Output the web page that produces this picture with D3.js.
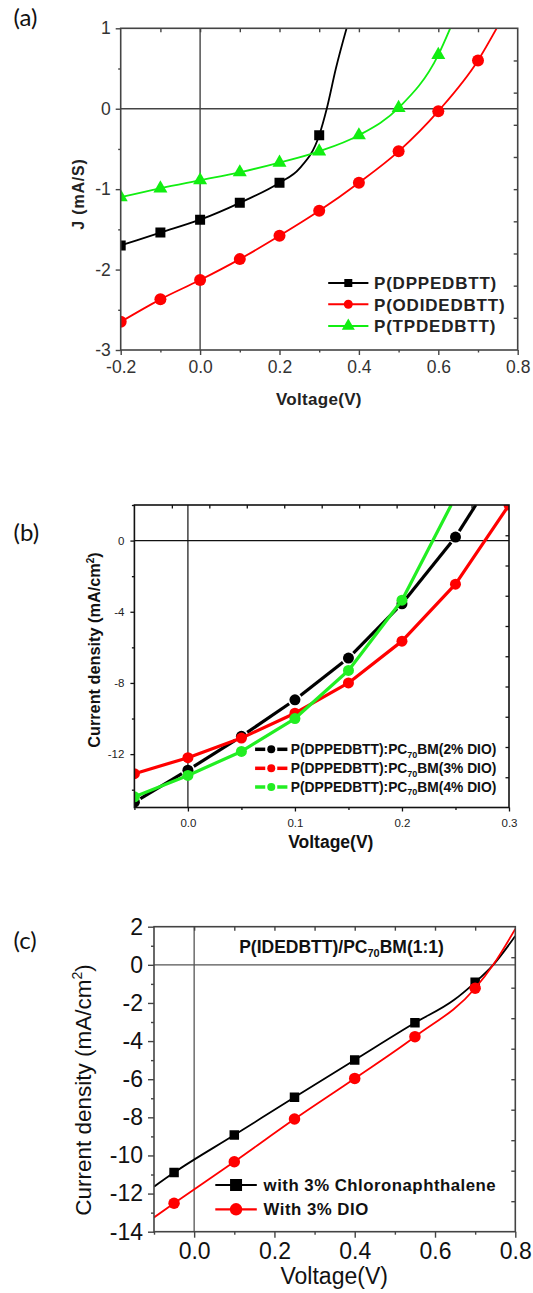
<!DOCTYPE html>
<html>
<head>
<meta charset="utf-8">
<title>J-V curves (a) (b) (c)</title>
<script src="https://d3js.org/d3.v7.min.js"></script>
<style>
    body { margin: 0; background: #fff; }
    svg { display: block; font-family: "Liberation Sans", Arial, sans-serif; }
    .domain { display: none; }
    .panel-tag { font-family: Lato, "Open Sans", sans-serif; font-size: 24px; fill: #111; }
</style>
</head>
<body>
<svg width="533" height="1293"></svg>
<script>
// ---------- (a) ----------
var voltA = [-0.2, -0.1, 0.0, 0.1, 0.2, 0.3, 0.4, 0.5, 0.6, 0.7];
var jDPP  = [-1.70, -1.54, -1.38, -1.17, -0.92, -0.33];
var jODI  = [-2.65, -2.37, -2.13, -1.87, -1.58, -1.27, -0.92, -0.53, -0.03, 0.60];
var jTPD  = [-1.10, -0.99, -0.89, -0.79, -0.67, -0.53, -0.33, 0.01, 0.67];
// points the curves pass through where there is no marker
var dppCurveV = [0.25, 0.319, 0.342, 0.369];
var dppCurveJ = [-0.745, 0.0, 0.5, 1.0];
var odiCurveV = [0.747];
var odiCurveJ = [1.0];
var tpdCurveV = [0.63];
var tpdCurveJ = [1.0];
var namesA = ["P(DPPEDBTT)", "P(ODIDEDBTT)", "P(TPDEDBTT)"];
var xTicksA = [-0.2, 0.0, 0.2, 0.4, 0.6, 0.8];
var xLabelsA = ["-0.2", "0.0", "0.2", "0.4", "0.6", "0.8"];
var xMinorA = [-0.1, 0.1, 0.3, 0.5, 0.7];
var yTicksA = [1, 0, -1, -2, -3];
var yLabelsA = ["1", "0", "-1", "-2", "-3"];
var yMinorA = [0.5, -0.5, -1.5, -2.5];
var xTopA = [-0.1, 0.0, 0.1, 0.2, 0.3, 0.4, 0.5, 0.6, 0.7];
var yRightA = [-2.6, -2.2, -1.8, -1.4, -1.0, -0.6, -0.2, 0.2, 0.6];

// ---------- (b) ----------
var voltB = [-0.05, 0.0, 0.05, 0.10, 0.15, 0.20, 0.25, 0.30];
var j2DIO = [-14.7, -12.9, -11.0, -8.95, -6.6, -3.55, 0.2];
var j3DIO = [-13.1, -12.2, -11.1, -9.7, -8.0, -5.65, -2.45, 2.0];
var j4DIO = [-14.4, -13.2, -11.85, -10.0, -7.3, -3.35];
var d2CurveV = [0.269];
var d2CurveJ = [2.0];
var d4CurveV = [0.246];
var d4CurveJ = [2.0];
var namesB = ["2% DIO", "3% DIO", "4% DIO"];
var xTicksB = [0.0, 0.1, 0.2, 0.3];
var xLabelsB = ["0.0", "0.1", "0.2", "0.3"];
var xMinorB = [-0.05, 0.05, 0.15, 0.25];
var yTicksB = [0, -4, -8, -12];
var yLabelsB = ["0", "-4", "-8", "-12"];
var yMinorB = [2, -2, -6, -10, -14];
var xTopB = [-0.015, 0.02, 0.055, 0.09, 0.125, 0.16, 0.195, 0.23, 0.265];
var yRightB = [-13.3, -11.6, -9.9, -8.2, -6.5, -4.8, -3.1, -1.4, 0.3];

// ---------- (c) ----------
var voltC = [-0.05, 0.10, 0.25, 0.40, 0.55, 0.70];
var jCN   = [-10.9, -8.93, -6.95, -4.99, -3.04, -0.92];
var jDIO  = [-12.51, -10.33, -8.09, -5.96, -3.77, -1.23];
var cnCurveV = [-0.1, 0.647, 0.745, 0.8];
var cnCurveJ = [-11.64, -1.85, 0.0, 1.51];
var dioCurveV = [-0.1, 0.745, 0.8];
var dioCurveJ = [-13.25, 0.0, 1.88];
var namesC = ["with 3% Chloronaphthalene", "With 3% DIO"];
var xTicksC = [0.0, 0.2, 0.4, 0.6, 0.8];
var xLabelsC = ["0.0", "0.2", "0.4", "0.6", "0.8"];
var xMinorC = [-0.1, 0.1, 0.3, 0.5, 0.7];
var yTicksC = [2, 0, -2, -4, -6, -8, -10, -12, -14];
var yLabelsC = ["2", "0", "-2", "-4", "-6", "-8", "-10", "-12", "-14"];
var yMinorC = [1, -1, -3, -5, -7, -9, -11, -13];
var xTopC = [0.0, 0.1, 0.2, 0.3, 0.4, 0.5, 0.6, 0.7];
var yRightC = [-12.4, -10.8, -9.2, -7.6, -6.0, -4.4, -2.8, -1.2, 0.4];

var svg = d3.select("svg");

function symbolPath(shape, w) {
    if (shape === "square") return d3.symbol().type(d3.symbolSquare).size(w * w)();
    if (shape === "triangle") return d3.symbol().type(d3.symbolTriangle).size(Math.sqrt(3) / 4 * w * w)();
    return d3.symbol().type(d3.symbolCircle).size(Math.PI * w * w / 4)();
}

function pointsOf(v, j, mark) {
    return j.map(function(d, i) { return {v: v[i], j: d, mark: mark}; });
}

function drawPanel(p) {
    var x = d3.scaleLinear().domain(p.xDomain).range([p.left, p.right]);
    var y = d3.scaleLinear().domain(p.yDomain).range([p.bottom, p.top]);
    var g = svg.append("g");

    g.append("clipPath").attr("id", "clip-" + p.id)
      .append("rect")
        .attr("x", p.left).attr("y", p.top)
        .attr("width", p.right - p.left).attr("height", p.bottom - p.top);

    // zero lines
    g.append("line")
        .attr("x1", x(0)).attr("x2", x(0)).attr("y1", p.top).attr("y2", p.bottom)
        .attr("stroke", p.zeroColor).attr("stroke-width", p.zeroWidth);
    g.append("line")
        .attr("x1", p.left).attr("x2", p.right).attr("y1", y(0)).attr("y2", y(0))
        .attr("stroke", p.zeroColor).attr("stroke-width", p.zeroWidth);

    var plot = g.append("g").attr("clip-path", "url(#clip-" + p.id + ")");

    p.series.forEach(function(s) {
        var marks = pointsOf(s.v, s.j, true);
        var all = marks.concat(pointsOf(s.cv || [], s.cj || [], false))
            .sort(function(a, b) { return a.v - b.v; });

        if (s.gap) {
            // line broken around the symbols
            for (var i = 0; i < all.length - 1; i++) {
                var a = all[i], b = all[i + 1];
                var ax = x(a.v), ay = y(a.j), bx = x(b.v), by = y(b.j);
                var len = Math.hypot(bx - ax, by - ay);
                var ux = (bx - ax) / len, uy = (by - ay) / len;
                var ga = a.mark ? s.gap : 0, gb = b.mark ? s.gap : 0;
                plot.append("line")
                    .attr("x1", ax + ux * ga).attr("y1", ay + uy * ga)
                    .attr("x2", bx - ux * gb).attr("y2", by - uy * gb)
                    .attr("stroke", s.color).attr("stroke-width", p.lineWidth);
            }
        } else {
            var line = d3.line()
                .x(function(d) { return x(d.v); })
                .y(function(d) { return y(d.j); })
                .curve(p.curve);
            plot.append("path")
                .datum(all)
                .attr("d", line)
                .attr("fill", "none")
                .attr("stroke", s.color)
                .attr("stroke-width", p.lineWidth)
                .attr("stroke-linejoin", "round");
        }

        plot.selectAll(null)
            .data(marks)
          .enter().append("path")
            .attr("d", symbolPath(s.shape, s.size))
            .attr("transform", function(d) { return "translate(" + x(d.v) + "," + y(d.j) + ")"; })
            .attr("fill", s.color);
    });

    // frame
    g.append("rect")
        .attr("x", p.left).attr("y", p.top)
        .attr("width", p.right - p.left).attr("height", p.bottom - p.top)
        .attr("fill", "none").attr("stroke", p.frameColor).attr("stroke-width", p.frameWidth);

    // axes
    var axB = g.append("g").attr("transform", "translate(0," + p.bottom + ")").attr("color", p.frameColor)
        .call(d3.axisBottom(x).tickValues(p.xTicks).tickSize(p.major).tickPadding(p.xPad)
            .tickFormat(function(d, i) { return p.xLabels[i]; }));
    g.append("g").attr("transform", "translate(0," + p.bottom + ")").attr("color", p.frameColor)
        .call(d3.axisBottom(x).tickValues(p.xMinor).tickSize(p.minor).tickFormat(""));
    var axL = g.append("g").attr("transform", "translate(" + p.left + ",0)").attr("color", p.frameColor)
        .call(d3.axisLeft(y).tickValues(p.yTicks).tickSize(p.major).tickPadding(p.yPad)
            .tickFormat(function(d, i) { return p.yLabels[i]; }));
    g.append("g").attr("transform", "translate(" + p.left + ",0)").attr("color", p.frameColor)
        .call(d3.axisLeft(y).tickValues(p.yMinor).tickSize(p.minor).tickFormat(""));
    g.append("g").attr("transform", "translate(0," + p.top + ")").attr("color", p.frameColor)
        .call(d3.axisTop(x).tickValues(p.xTop).tickSize(-p.inner).tickFormat(""));
    g.append("g").attr("transform", "translate(" + p.right + ",0)").attr("color", p.frameColor)
        .call(d3.axisRight(y).tickValues(p.yRight).tickSize(-p.inner).tickFormat(""));

    g.selectAll(".tick line").attr("stroke-width", p.tickWidth);
    [axB, axL].forEach(function(ax) {
        ax.selectAll("text")
            .attr("fill", p.labelColor)
            .style("font-family", "'Liberation Sans', Arial, sans-serif")
            .style("font-size", p.tickFont + "px");
    });

    return {x: x, y: y, g: g};
}

function legendRow(g, s, row, L) {
    var xm = (L.x0 + L.x1) / 2;
    if (L.gap) {
        g.append("line").attr("x1", L.x0).attr("x2", xm - L.gap).attr("y1", row).attr("y2", row)
            .attr("stroke", s.color).attr("stroke-width", L.lineWidth);
        g.append("line").attr("x1", xm + L.gap).attr("x2", L.x1).attr("y1", row).attr("y2", row)
            .attr("stroke", s.color).attr("stroke-width", L.lineWidth);
    } else {
        g.append("line").attr("x1", L.x0).attr("x2", L.x1).attr("y1", row).attr("y2", row)
            .attr("stroke", s.color).attr("stroke-width", L.lineWidth);
    }
    g.append("path")
        .attr("d", symbolPath(s.shape, s.legendSize))
        .attr("transform", "translate(" + xm + "," + row + ")")
        .attr("fill", s.color);
}

// ================= panel (a) =================
var seriesA = [
    {v: voltA, j: jDPP, cv: dppCurveV, cj: dppCurveJ, color: "#000", shape: "square", size: 10, legendSize: 8},
    {v: voltA, j: jODI, cv: odiCurveV, cj: odiCurveJ, color: "#ff0000", shape: "circle", size: 12, legendSize: 9},
    {v: voltA, j: jTPD, cv: tpdCurveV, cj: tpdCurveJ, color: "#11ee11", shape: "triangle", size: 14, legendSize: 13}
];
var pa = drawPanel({
    id: "a", left: 120.7, right: 517.7, top: 28.3, bottom: 350,
    xDomain: [-0.2, 0.8], yDomain: [-3, 1],
    xTicks: xTicksA, xLabels: xLabelsA, xMinor: xMinorA,
    yTicks: yTicksA, yLabels: yLabelsA, yMinor: yMinorA,
    xTop: xTopA, yRight: yRightA,
    major: 5, minor: 2.5, inner: 4, xPad: 6, yPad: 5, tickWidth: 1.4,
    frameColor: "#444", frameWidth: 1.6, zeroColor: "#444", zeroWidth: 1.4,
    labelColor: "#333", tickFont: 17.5,
    lineWidth: 1.8, curve: d3.curveMonotoneX, series: seriesA
});
seriesA.forEach(function(s, i) {
    var row = [283, 304.3, 326][i];
    legendRow(pa.g, s, row, {x0: 328.2, x1: 368.4, lineWidth: 2});
    pa.g.append("text").attr("x", 374).attr("y", row + 6.2)
        .attr("font-size", 17).attr("font-weight", "bold").attr("fill", "#222")
        .attr("letter-spacing", 0.8)
        .text(namesA[i]);
});
svg.append("text").attr("class", "panel-tag").attr("x", 13.6).attr("y", 25.5).text("(a)");
svg.append("text")
    .attr("transform", "translate(84,194) rotate(-90)")
    .attr("text-anchor", "middle").attr("font-size", 16).attr("font-weight", "bold")
    .attr("letter-spacing", 0.8).attr("fill", "#222")
    .text("J (mA/S)");
svg.append("text").attr("x", 318.9).attr("y", 405)
    .attr("text-anchor", "middle").attr("font-size", 17).attr("font-weight", "bold").attr("fill", "#222")
    .attr("letter-spacing", 0.3)
    .text("Voltage(V)");

// ================= panel (b) =================
var seriesB = [
    {v: voltB, j: j2DIO, cv: d2CurveV, cj: d2CurveJ, color: "#000", shape: "circle", size: 11, legendSize: 8, gap: 7},
    {v: voltB, j: j3DIO, color: "#ff0000", shape: "circle", size: 11, legendSize: 8},
    {v: voltB, j: j4DIO, cv: d4CurveV, cj: d4CurveJ, color: "#22ee22", shape: "circle", size: 11, legendSize: 8}
];
var pb = drawPanel({
    id: "b", left: 134.4, right: 509, top: 505, bottom: 807.5,
    xDomain: [-0.05, 0.3], yDomain: [-15, 2],
    xTicks: xTicksB, xLabels: xLabelsB, xMinor: xMinorB,
    yTicks: yTicksB, yLabels: yLabelsB, yMinor: yMinorB,
    xTop: xTopB, yRight: yRightB,
    major: 4, minor: 2.5, inner: 3.5, xPad: 7, yPad: 6, tickWidth: 1.3,
    frameColor: "#111", frameWidth: 1.6, zeroColor: "#111", zeroWidth: 1.2,
    labelColor: "#222", tickFont: 11.5,
    lineWidth: 3.2, curve: d3.curveLinear, series: seriesB
});
seriesB.forEach(function(s, i) {
    var row = [749.3, 768.3, 787][i];
    legendRow(pb.g, s, row, {x0: 255.1, x1: 287.4, lineWidth: 3.5, gap: 6});
    var t = pb.g.append("text").attr("x", 290.8).attr("y", row + 4.8)
        .attr("font-size", 13.8).attr("font-weight", "bold").attr("fill", "#111");
    t.append("tspan").text("P(DPPEDBTT):PC");
    t.append("tspan").attr("font-size", 9).attr("dy", 3.5).text("70");
    t.append("tspan").attr("dy", -3.5).text("BM(" + namesB[i] + ")");
});
svg.append("text").attr("class", "panel-tag").attr("x", 13.6).attr("y", 540.5).text("(b)");
var ylb = svg.append("text")
    .attr("transform", "translate(100,650) rotate(-90)")
    .attr("text-anchor", "middle").attr("font-size", 16.3).attr("font-weight", "bold").attr("fill", "#111");
ylb.append("tspan").text("Current density (mA/cm");
ylb.append("tspan").attr("font-size", 10).attr("dy", -6).text("2");
ylb.append("tspan").attr("dy", 6).text(")");
svg.append("text").attr("x", 330.8).attr("y", 847.5)
    .attr("text-anchor", "middle").attr("font-size", 17.5).attr("font-weight", "bold").attr("fill", "#111")
    .text("Voltage(V)");

// ================= panel (c) =================
var seriesC = [
    {v: voltC, j: jCN, cv: cnCurveV, cj: cnCurveJ, color: "#000", shape: "square", size: 9.5, legendSize: 12},
    {v: voltC, j: jDIO, cv: dioCurveV, cj: dioCurveJ, color: "#ff0000", shape: "circle", size: 11.5, legendSize: 12.5}
];
var pc = drawPanel({
    id: "c", left: 154, right: 515.3, top: 926.7, bottom: 1231.7,
    xDomain: [-0.1, 0.8], yDomain: [-14, 2],
    xTicks: xTicksC, xLabels: xLabelsC, xMinor: xMinorC,
    yTicks: yTicksC, yLabels: yLabelsC, yMinor: yMinorC,
    xTop: xTopC, yRight: yRightC,
    major: 6, minor: 3, inner: 4, xPad: 5, yPad: 5, tickWidth: 1.4,
    frameColor: "#444", frameWidth: 1.6, zeroColor: "#555", zeroWidth: 1.3,
    labelColor: "#111", tickFont: 23,
    lineWidth: 1.8, curve: d3.curveMonotoneX, series: seriesC
});
seriesC.forEach(function(s, i) {
    var row = [1185, 1209.3][i];
    legendRow(pc.g, s, row, {x0: 215.3, x1: 256.8, lineWidth: 2.2});
    pc.g.append("text").attr("x", 263.6).attr("y", row + 6)
        .attr("font-size", 16.8).attr("font-weight", "bold").attr("fill", "#111")
        .attr("letter-spacing", 0.5)
        .text(namesC[i]);
});
var tc = svg.append("text").attr("x", 341.5).attr("y", 953)
    .attr("text-anchor", "middle").attr("font-size", 17.5).attr("font-weight", "bold").attr("fill", "#111");
tc.append("tspan").text("P(IDEDBTT)/PC");
tc.append("tspan").attr("font-size", 11).attr("dy", 4).text("70");
tc.append("tspan").attr("dy", -4).text("BM(1:1)");
svg.append("text").attr("class", "panel-tag").attr("x", 13.6).attr("y", 948.7).text("(c)");
var ylc = svg.append("text")
    .attr("transform", "translate(91,1090) rotate(-90)")
    .attr("text-anchor", "middle").attr("font-size", 22.5).attr("fill", "#111");
ylc.append("tspan").text("Current density (mA/cm");
ylc.append("tspan").attr("font-size", 14).attr("dy", -9).text("2");
ylc.append("tspan").attr("dy", 9).text(")");
svg.append("text").attr("x", 334.2).attr("y", 1284)
    .attr("text-anchor", "middle").attr("font-size", 23).attr("fill", "#111")
    .text("Voltage(V)");
</script>
</body>
</html>
